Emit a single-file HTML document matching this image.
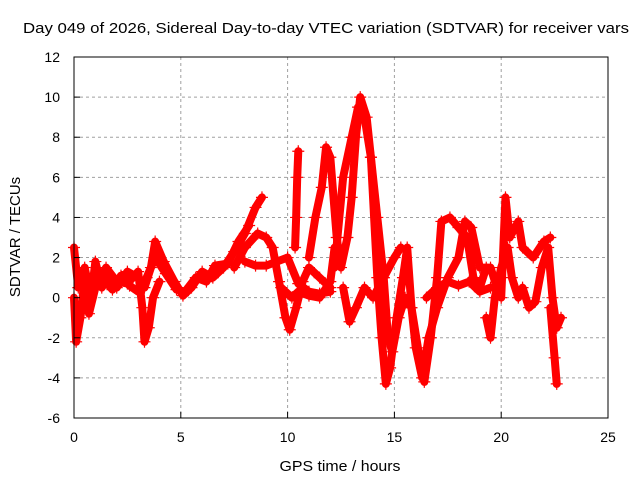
<!DOCTYPE html>
<html><head><meta charset="utf-8"><style>
body{margin:0;background:#fff;}
svg{display:block;font-family:"Liberation Sans",sans-serif;}
</style></head><body>
<svg id="chart" width="640" height="480" viewBox="0 0 640 480" xmlns="http://www.w3.org/2000/svg">
<text x="326" y="33" font-size="15" text-anchor="middle" textLength="606" lengthAdjust="spacingAndGlyphs">Day 049 of 2026, Sidereal Day-to-day VTEC variation (SDTVAR) for receiver vars</text>
<text x="340" y="471" font-size="15" text-anchor="middle" textLength="121" lengthAdjust="spacingAndGlyphs">GPS time / hours</text>
<text x="20" y="237" font-size="15" text-anchor="middle" transform="rotate(-90 20 237)">SDTVAR / TECUs</text>
<g id="grid"></g>
<g id="series"></g>
<rect x="74" y="57" width="534" height="361" fill="none" stroke="#000" stroke-width="1"/>
<g id="ticks"></g>
</svg>
<script>
const xTicks=[0,5,10,15,20,25];
const yTicks=[-6,-4,-2,0,2,4,6,8,10,12];
const traceA=[[0,2.5],[0.2,0.5],[0.5,1.5],[0.8,0],[1,1.8],[1.3,0.5],[1.6,1],[2,0.5],[2.5,1.3],[3,1],[3.3,0.5],[3.6,1.5],[3.8,2.8],[4.2,1.8],[4.7,0.8],[5.1,0.1],[5.5,0.5],[6,1.3],[6.5,1],[7,1.5],[7.5,2.3],[8,3.2],[8.5,4.5],[8.8,5]];
const traceA2=[[0.3,0.8],[0.6,0.2],[1,0.6],[1.4,0.9],[1.8,0.4],[2.2,1.1],[2.6,0.6],[3,0.3],[3.4,1],[3.8,2],[4.3,1.2],[4.8,0.4],[5.2,0.3],[5.7,1],[6.2,0.8],[6.6,1.6],[7.2,1.7],[7.7,2.8],[8.2,3.6]];
const traceB=[[0,0],[0.1,-2.2],[0.3,-1],[0.5,1],[0.7,-0.8],[1,0.5],[1.5,1.5],[2,0.8],[2.5,0.7],[3,1.3],[3.2,-0.5],[3.3,-2.2],[3.5,-1.5],[3.7,0],[4,0.8]];
const traceC=[[7.5,1.5],[8,2.5],[8.6,3.2],[9,3],[9.3,2.5],[9.6,0.8],[9.9,-1],[10.1,-1.6],[10.4,-0.5],[10.7,0.8],[11,1.5],[11.5,1],[12,0.5]];
const traceD=[[8,1.8],[8.5,1.6],[9,1.6],[9.5,1.8],[10,2],[10.5,0.7],[11,0.3],[11.5,0.2],[12,0.3]];
const traceE=[[9.7,0.5],[10.2,0],[10.5,0.3],[11,0.1],[11.5,0],[12,0.8],[12.2,2.5]];
const traceF=[[10.35,2.5],[10.4,4],[10.45,6],[10.5,7.3]];
const traceG=[[11,2],[11.3,4],[11.6,5.5],[11.8,7.5],[12,7],[12.3,3],[12.5,1.5],[12.8,3],[13,5],[13.2,8],[13.4,10],[13.7,9],[13.9,7],[14.2,4],[14.5,1],[14.7,-2],[14.9,-2.7],[15.2,-1],[15.5,0],[15.8,-0.5],[16,-2.5],[16.3,-4],[16.6,-2],[17,-0.5],[17.5,1],[18,2],[18.3,3.8],[18.6,3.5],[19,1.5],[19.5,1.5],[19.8,0.5]];
const traceH=[[12.2,1.5],[12.6,6],[13,8],[13.3,9.5],[13.6,9],[13.9,7],[14.2,1],[14.4,-2],[14.6,-4.3],[14.8,-3.5],[15.1,-1],[15.4,1],[15.6,2.5],[15.8,-0.5],[16.1,-2.5],[16.4,-4.2],[16.7,-2],[17,1],[17.2,3.8],[17.6,4],[18,3.5],[18.4,3],[18.7,1],[19,0.5],[19.3,1.5]];
const traceI=[[12.6,0.5],[12.9,-1.2],[13.2,-0.5],[13.6,0.5],[14,0],[14.5,1],[15,2],[15.3,2.5]];
const traceI2=[[16.5,0],[17,0.5],[17.5,0.8],[18,0.6],[18.5,0.8],[19,0.3],[19.5,0.5]];
const traceJ=[[19.3,-1],[19.5,-2],[19.7,0],[20,1.5],[20.3,2.5],[20.5,1],[20.8,0],[21,0.5],[21.3,-0.5],[21.6,-0.2],[21.9,1.5],[22.2,2.5],[22.4,0],[22.6,-1.5],[22.8,-1]];
const traceK=[[20,0],[20.2,5],[20.4,3],[20.8,3.8],[21,2.5],[21.5,2],[22,2.8],[22.3,3]];
const traceL=[[22.3,-0.5],[22.5,-3],[22.6,-4.3]];
const traces=[traceA,traceA2,traceB,traceC,traceD,traceE,traceF,traceG,traceH,traceI,traceI2,traceJ,traceK,traceL];
const NS="http://www.w3.org/2000/svg";
const X0=74,X1=608,Y0=418,Y1=57;
function sx(h){return X0+(h-0)/(25-0)*(X1-X0);}
function sy(v){return Y0-(v-(-6))/(12-(-6))*(Y0-Y1);}
function mk(tag,attrs,parent){const e=document.createElementNS(NS,tag);for(const k in attrs)e.setAttribute(k,attrs[k]);parent.appendChild(e);return e;}
const grid=document.getElementById('grid'),ticks=document.getElementById('ticks'),ser=document.getElementById('series');
xTicks.forEach(t=>{
  if(t>0&&t<25){const l=mk('line',{x1:sx(t),x2:sx(t),y1:Y1,y2:Y0,stroke:'#a0a0a0','stroke-dasharray':'3,3'},grid);
  
  }
  const tl=mk('text',{x:sx(t),y:Y0+24,'font-size':14,'text-anchor':'middle'},ticks);tl.textContent=t;
  
  
  mk('line',{x1:sx(t),x2:sx(t),y1:Y0,y2:Y0-6,stroke:'#000'},ticks);
});
yTicks.forEach(t=>{
  if(t>-6&&t<12){const l=mk('line',{x1:X0,x2:X1,y1:sy(t),y2:sy(t),stroke:'#a0a0a0','stroke-dasharray':'3,3'},grid);
  
  }
  const tl=mk('text',{x:X0-14,y:sy(t)+5,'font-size':14,'text-anchor':'end'},ticks);tl.textContent=t;
  
  
  mk('line',{x1:X0,x2:X0+6,y1:sy(t),y2:sy(t),stroke:'#000'},ticks);
});
traces.forEach((tr,i)=>{
  const p=mk('polyline',{points:tr.map(d=>sx(d[0])+','+sy(d[1])).join(' '),fill:'none',stroke:'#ff0000','stroke-width':8,'stroke-linejoin':'round','stroke-linecap':'round'},ser);
  
  
  tr.forEach(d=>{
    const x=sx(d[0]),y=sy(d[1]);
    const m=mk('path',{d:`M${x-6},${y}H${x+6}M${x},${y-6}V${y+6}`,stroke:'#ff0000','stroke-width':1.2},ser);
    
    
  });
});
</script>
</body></html>
